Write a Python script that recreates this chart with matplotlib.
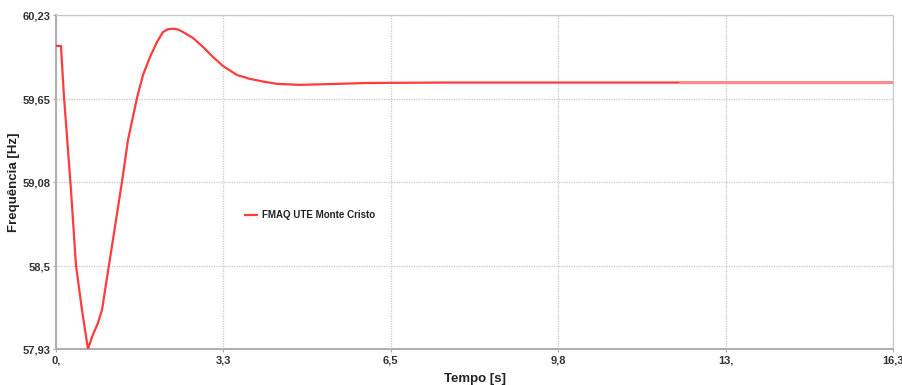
import numpy as np
import matplotlib
matplotlib.use("Agg")
import matplotlib.pyplot as plt

plt.rcParams['font.family'] = ['Liberation Sans', 'DejaVu Sans']

# frequency response
tempo = [0.0, 0.097, 0.156, 0.234, 0.292, 0.389, 0.506, 0.623, 0.72, 0.818, 0.896,
         1.032, 1.285, 1.402, 1.577, 1.694, 1.831, 1.967, 2.084, 2.18, 2.279, 2.38,
         2.473, 2.668, 2.863, 3.057, 3.252, 3.525, 3.778, 4.031, 4.304, 4.752, 5.394,
         6.056, 7.67, 9.8, 12.15, 14.0, 16.3]
freq = [60.017, 60.017, 59.665, 59.300, 59.025, 58.508, 58.199, 57.930, 58.03, 58.109, 58.199,
        58.508, 59.080, 59.369, 59.658, 59.817, 59.941, 60.044, 60.113, 60.132, 60.136, 60.130,
        60.113, 60.072, 60.010, 59.941, 59.879, 59.817, 59.790, 59.772, 59.756, 59.749, 59.755,
        59.762, 59.765, 59.765, 59.765, 59.765, 59.765]

xticks = [0.0, 3.26, 6.52, 9.78, 13.04, 16.3]
xlabels = ["0,", "3,3", "6,5", "9,8", "13,", "16,3"]
yticks = [57.93, 58.5, 59.08, 59.65, 60.23]
ylabels = ["57,93", "58,5", "59,08", "59,65", "60,23"]
serie = "FMAQ UTE Monte Cristo"

fig = plt.figure(figsize=(9.03, 3.85), dpi=100)
ax = fig.add_axes([0.062, 0.0935, 0.927, 0.8675])

t = np.array(tempo)
f = np.array(freq)
ax.plot(t, f, color="#ff3b3b", lw=1.6, label=serie, zorder=3)
ax.plot(t[t >= 12.15], f[t >= 12.15], color="#ff8c8c", lw=1.6, zorder=4)

ax.set_xlim(0, 16.3)
ax.set_ylim(57.93, 60.23)
ax.set_xticks(xticks)
ax.set_xticklabels(xlabels)
ax.set_yticks(yticks)
ax.set_yticklabels(ylabels)
ax.tick_params(labelsize=8, colors="#aaaaaa", labelcolor="#333333", length=2, width=0.8, pad=2)
ax.tick_params(axis="x", pad=3)
for lab in ax.get_xticklabels() + ax.get_yticklabels():
    lab.set_fontweight("bold")

ax.grid(True, color="#c8c8c8", linestyle=(0, (1, 1)), lw=0.9)
ax.spines["left"].set_color("#b0b0b0")
ax.spines["bottom"].set_color("#b0b0b0")
ax.spines["left"].set_linewidth(1.5)
ax.spines["bottom"].set_linewidth(1.5)
for s in ["top", "right"]:
    ax.spines[s].set_color("#c8c8c8")
    ax.spines[s].set_linestyle((0, (1, 1)))
    ax.spines[s].set_linewidth(0.9)

ax.set_xlabel("Tempo [s]", fontsize=9.5, fontweight="bold", color="#222222", labelpad=5)
ax.set_ylabel("Frequência [Hz]", fontsize=9.5, fontweight="bold", color="#222222")
ax.yaxis.set_label_coords(-0.043, 0.5)

leg = ax.legend(loc="center left", bbox_to_anchor=(0.215, 0.40), frameon=False,
                fontsize=7, handlelength=1.3, handletextpad=0.5)
for txt in leg.get_texts():
    txt.set_fontweight("bold")
    txt.set_color("#222222")

fig.savefig("out.png", dpi=100)
